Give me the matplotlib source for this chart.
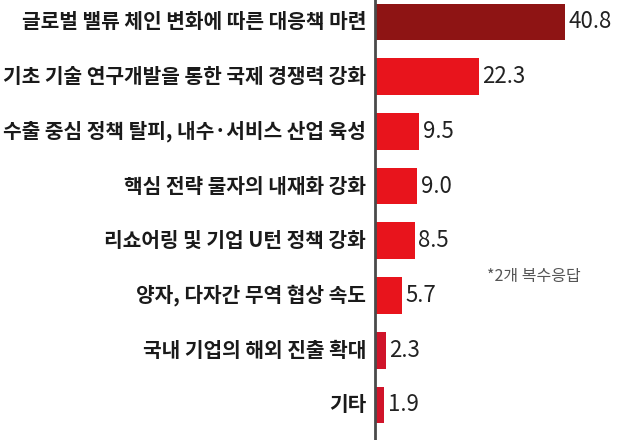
import matplotlib.pyplot as plt
import numpy as np

plt.rcParams['font.family'] = ['Noto Sans CJK KR', 'DejaVu Sans']

# 데이터
labels = ['글로벌 밸류 체인 변화에 따른 대응책 마련',
          '기초 기술 연구개발을 통한 국제 경쟁력 강화',
          '수출 중심 정책 탈피, 내수·서비스 산업 육성',
          '핵심 전략 물자의 내재화 강화',
          '리쇼어링 및 기업 U턴 정책 강화',
          '양자, 다자간 무역 협상 속도',
          '국내 기업의 해외 진출 확대',
          '기타']
values = [40.8, 22.3, 9.5, 9.0, 8.5, 5.7, 2.3, 1.9]
colors = ['#8e1414', '#e8141c', '#e8141c', '#e8141c', '#e8141c', '#e8141c', '#d0142a', '#d0142a']
note = '*2개 복수응답'

fig = plt.figure(figsize=(6.32, 4.40), dpi=100)
ax = fig.add_axes([375 / 632, 0, 257 / 632, 1])

y = np.arange(len(values))
ax.barh(y, values, height=0.67, color=colors)
ax.set_ylim(7.64, -0.4)
ax.set_xlim(0, 55.2)

# 항목 이름 (축 왼쪽)
for i, lab in enumerate(labels):
    ax.text(-1.9, i, lab, ha='right', va='center', fontsize=14.6,
            fontweight='bold', color='#1a1a1a', clip_on=False)

# 값 표시
for i, v in enumerate(values):
    ax.text(v + 0.8, i, f'{v:.1f}', ha='left', va='center', fontsize=16,
            color='#222222')

ax.text(24.0, 4.65, note, ha='left', va='center', fontsize=11.5, color='#555555')

for s in ['top', 'right', 'bottom']:
    ax.spines[s].set_visible(False)
ax.spines['left'].set_color('#4a4a4a')
ax.spines['left'].set_linewidth(2)
ax.set_xticks([])
ax.set_yticks([])

fig.savefig('out.png', dpi=100)
